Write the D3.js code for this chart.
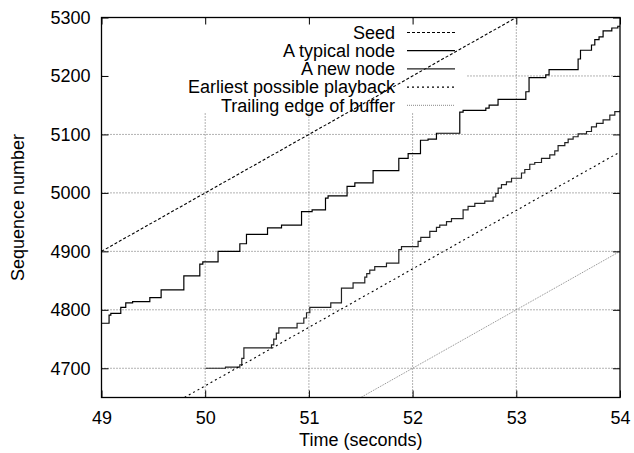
<!DOCTYPE html>
<html>
<head>
<meta charset="utf-8">
<script src="https://cdn.jsdelivr.net/npm/d3@7"></script>
<style>
  html, body { margin: 0; padding: 0; background: #fff; }
  svg { display: block; }
  text { font-family: "Liberation Sans", Arial, Helvetica, sans-serif; fill: #000; }
</style>
</head>
<body>
<svg id="chart" width="634" height="453"></svg>
<script>
// ---------- data ----------
const xTicks = [49, 50, 51, 52, 53, 54];
const yTicks = [4700, 4800, 4900, 5000, 5100, 5200, 5300];
const xDomain = [49, 54];
const yDomain = [4650, 5300];

const seriesNames = ["Seed", "A typical node", "A new node", "Earliest possible playback", "Trailing edge of buffer"];

const seedLine = [[49, 4900], [53, 5300]];
const playbackLine = [[49.8, 4650], [54, 5070]];
const trailingLine = [[51.5, 4650], [54, 4900]];

const typicalNode = [
  [49.0, 4777], [49.073, 4791], [49.09, 4794], [49.186, 4804], [49.234, 4812],
  [49.30, 4814], [49.466, 4821], [49.575, 4834], [49.794, 4858], [49.948, 4878],
  [49.977, 4882], [50.124, 4900], [50.334, 4913], [50.398, 4929], [50.601, 4940],
  [50.736, 4945], [50.929, 4968], [51.031, 4971], [51.160, 4991], [51.185, 4995],
  [51.368, 5011], [51.443, 5017], [51.619, 5038], [51.867, 5059], [51.957, 5067],
  [52.076, 5090], [52.149, 5092], [52.230, 5102], [52.455, 5138], [52.487, 5141],
  [52.706, 5145], [52.738, 5150], [52.824, 5160], [53.092, 5173], [53.123, 5197],
  [53.284, 5202], [53.316, 5211], [53.596, 5229], [53.619, 5244], [53.725, 5253],
  [53.757, 5262], [53.798, 5267], [53.837, 5277], [53.921, 5282], [53.979, 5285],
  [54.0, 5285]
];

const newNode = [
  [50.003, 4700], [50.196, 4702], [50.334, 4706], [50.353, 4717], [50.373, 4735],
  [50.639, 4740], [50.661, 4750], [50.686, 4760], [50.710, 4769], [50.886, 4777],
  [50.951, 4786], [50.977, 4795], [51.009, 4804], [51.211, 4812], [51.314, 4837],
  [51.426, 4846], [51.539, 4856], [51.558, 4862], [51.587, 4868], [51.635, 4874],
  [51.748, 4880], [51.867, 4903], [51.893, 4908], [52.053, 4917], [52.079, 4924],
  [52.166, 4934], [52.230, 4941], [52.262, 4945], [52.327, 4951], [52.375, 4956],
  [52.487, 4971], [52.535, 4977], [52.600, 4982], [52.696, 4986], [52.776, 4993],
  [52.802, 4999], [52.825, 5008], [52.857, 5014], [52.905, 5019], [52.954, 5025],
  [53.050, 5034], [53.082, 5040], [53.130, 5049], [53.178, 5052], [53.243, 5059],
  [53.323, 5065], [53.371, 5072], [53.403, 5081], [53.468, 5086], [53.500, 5092],
  [53.548, 5096], [53.596, 5101], [53.677, 5105], [53.725, 5113], [53.773, 5119],
  [53.837, 5125], [53.902, 5133], [53.950, 5139], [54.0, 5141]
];

// ---------- layout ----------
const svg = d3.select("#chart");
const m = { left: 101.5, right: 620, top: 17.5, bottom: 397.5 };
const x = d3.scaleLinear().domain(xDomain).range([m.left, m.right]);
const y = d3.scaleLinear().domain(yDomain).range([m.bottom, m.top]);
const FS = 18;

svg.append("defs").append("clipPath").attr("id", "plotclip")
  .append("rect").attr("x", m.left).attr("y", m.top)
  .attr("width", m.right - m.left).attr("height", m.bottom - m.top);

// grid
const grid = svg.append("g").attr("stroke", "#666").attr("stroke-width", 1)
  .attr("stroke-dasharray", "1,2");
xTicks.filter(t => t > xDomain[0] && t < xDomain[1]).forEach(t => {
  grid.append("line").attr("x1", x(t)).attr("x2", x(t)).attr("y1", m.top).attr("y2", m.bottom);
});
yTicks.filter(t => t > yDomain[0] && t < yDomain[1]).forEach(t => {
  grid.append("line").attr("x1", m.left).attr("x2", m.right).attr("y1", y(t)).attr("y2", y(t));
});

// key blanking area
svg.append("rect").attr("x", m.left + 1).attr("y", m.top + 1)
  .attr("width", 466 - m.left - 1).attr("height", 113 - m.top - 1).attr("fill", "#fff");

// data lines
const plot = svg.append("g").attr("clip-path", "url(#plotclip)").attr("fill", "none");
const straight = d3.line().x(d => x(d[0])).y(d => y(d[1]));
const step = d3.line().x(d => x(d[0])).y(d => y(d[1])).curve(d3.curveStepAfter);

const styles = [
  { stroke: "#000", width: 1.1, dash: "3,2" },
  { stroke: "#000", width: 1.2, dash: null },
  { stroke: "#222", width: 1.2, dash: null },
  { stroke: "#000", width: 1.1, dash: "2,3" },
  { stroke: "#888", width: 1.0, dash: "1,1" }
];
const dataSets = [
  { d: seedLine, gen: straight },
  { d: typicalNode, gen: step },
  { d: newNode, gen: step },
  { d: playbackLine, gen: straight },
  { d: trailingLine, gen: straight }
];
dataSets.forEach((s, i) => {
  plot.append("path").attr("d", s.gen(s.d))
    .attr("stroke", styles[i].stroke).attr("stroke-width", styles[i].width)
    .attr("stroke-dasharray", styles[i].dash);
});

// legend
const legend = svg.append("g");
seriesNames.forEach((name, i) => {
  const ly = 32.5 + i * 18.2;
  legend.append("text").attr("x", 395).attr("y", ly).attr("dy", "0.35em")
    .attr("text-anchor", "end").attr("font-size", FS).text(name);
  legend.append("line").attr("x1", 407).attr("x2", 455).attr("y1", ly).attr("y2", ly)
    .attr("stroke", styles[i].stroke).attr("stroke-width", styles[i].width)
    .attr("stroke-dasharray", styles[i].dash);
});

// axes
const TK = 7;
const axB = d3.axisBottom(x).tickValues(xTicks).tickSize(-TK).tickPadding(14).tickFormat(d3.format("d"));
const axT = d3.axisTop(x).tickValues(xTicks).tickSize(-TK).tickFormat("");
const axL = d3.axisLeft(y).tickValues(yTicks).tickSize(-TK).tickPadding(11).tickFormat(d3.format("d"));
const axR = d3.axisRight(y).tickValues(yTicks).tickSize(-TK).tickFormat("");

function styleAxis(g) {
  g.select(".domain").remove();
  g.selectAll(".tick line").attr("stroke", "#000").attr("stroke-width", 1);
  g.selectAll(".tick text").attr("font-size", FS).attr("font-family", "Liberation Sans, Arial, sans-serif").attr("fill", "#000");
}
svg.append("g").attr("transform", `translate(0,${m.bottom})`).call(axB).call(styleAxis);
svg.append("g").attr("transform", `translate(0,${m.top})`).call(axT).call(styleAxis);
svg.append("g").attr("transform", `translate(${m.left},0)`).call(axL).call(styleAxis);
svg.append("g").attr("transform", `translate(${m.right},0)`).call(axR).call(styleAxis);

// frame
svg.append("rect").attr("x", m.left).attr("y", m.top)
  .attr("width", m.right - m.left).attr("height", m.bottom - m.top)
  .attr("fill", "none").attr("stroke", "#000").attr("stroke-width", 1.3);

// axis titles
svg.append("text").attr("x", (m.left + m.right) / 2).attr("y", 446)
  .attr("text-anchor", "middle").attr("font-size", FS).text("Time (seconds)");
svg.append("text").attr("transform", `translate(24,${(m.top + m.bottom) / 2}) rotate(-90)`)
  .attr("text-anchor", "middle").attr("font-size", FS).text("Sequence number");
</script>
</body>
</html>
